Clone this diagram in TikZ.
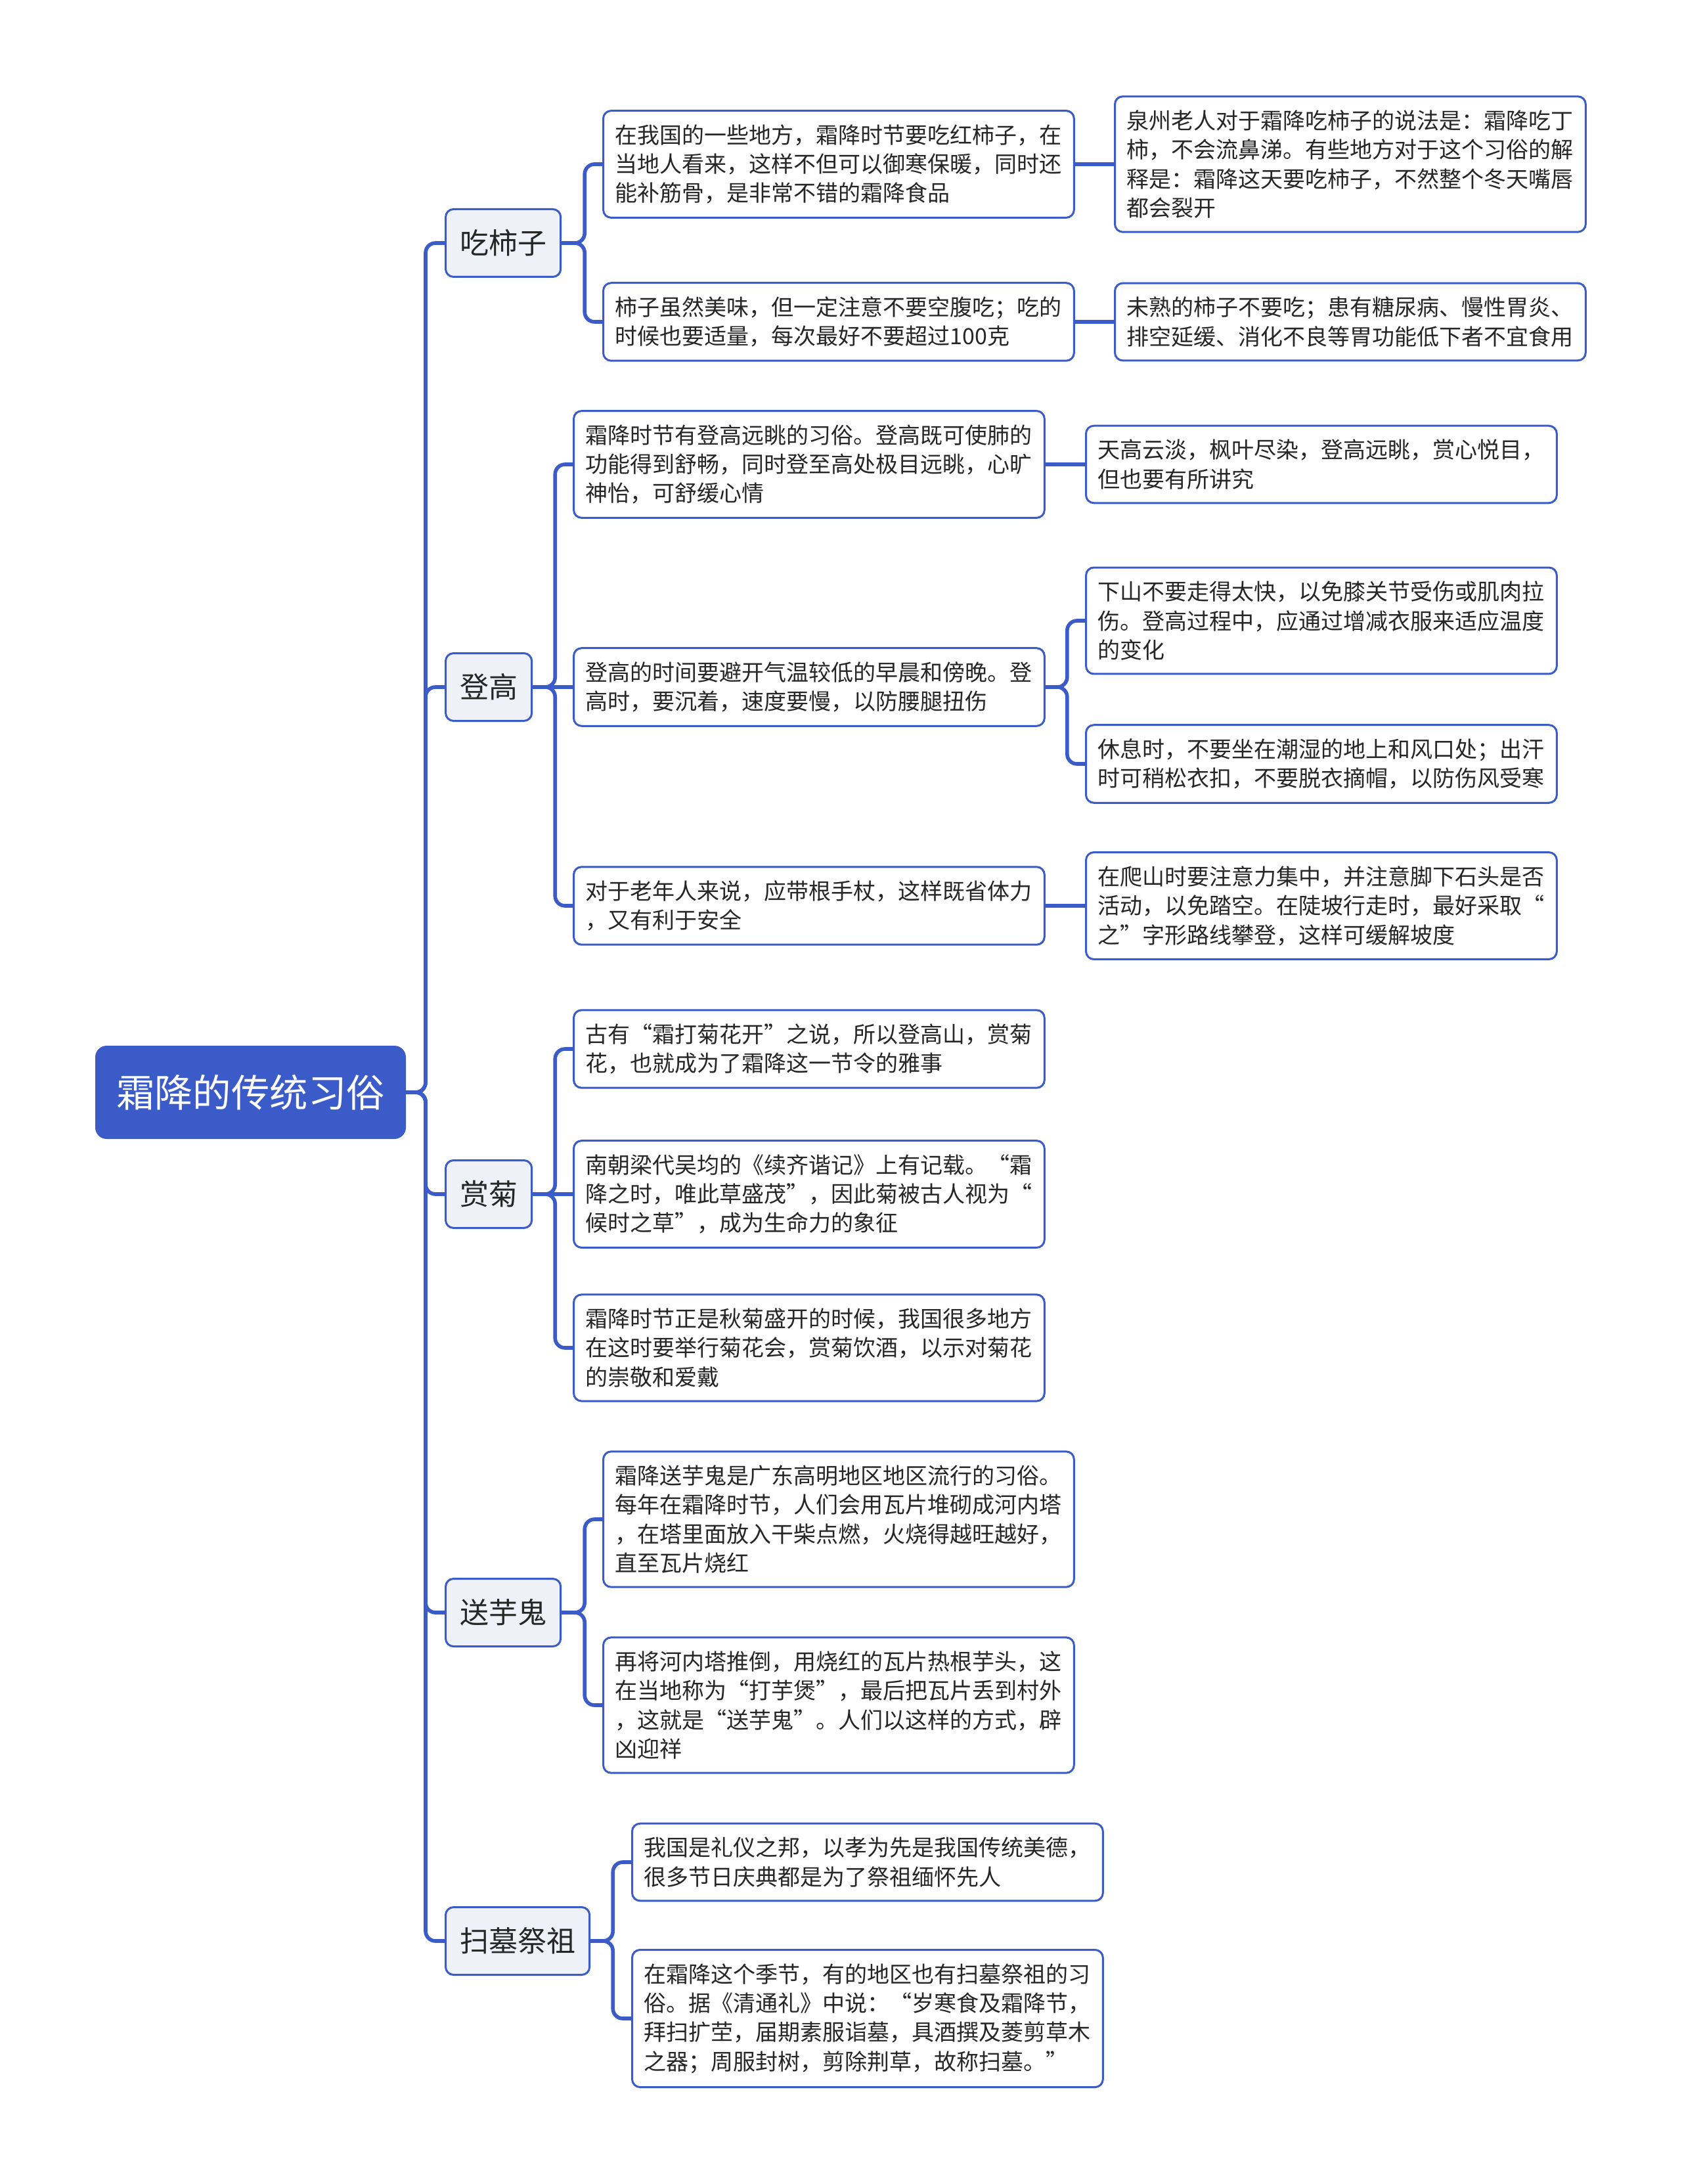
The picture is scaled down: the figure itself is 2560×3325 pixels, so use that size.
\documentclass[tikz,border=0pt]{standalone}
\usepackage{fontspec}
\setmainfont{Noto Sans CJK SC}

\definecolor{mapblue}{RGB}{58,91,200}
\definecolor{topicfill}{RGB}{238,241,247}
\definecolor{inkgray}{RGB}{38,38,38}

\begin{document}
\begin{tikzpicture}[x=0.25pt,y=-0.25pt,
    root/.style={draw=mapblue,fill=mapblue,text=white,rounded corners=4pt,line width=0.75pt,
        minimum width=117.5pt,minimum height=34.75pt,anchor=west,font=\fontsize{14.6pt}{17pt}\selectfont},
    topic/.style={draw=mapblue,fill=topicfill,text=inkgray,rounded corners=3pt,line width=0.75pt,
        inner xsep=5.4pt,minimum height=25.75pt,anchor=west,font=\fontsize{11pt}{13pt}\selectfont},
    leaf/.style={draw=mapblue,fill=white,text=inkgray,rounded corners=3pt,line width=0.75pt,
        text width=170pt,align=left,inner xsep=4.6pt,inner ysep=5.2pt,anchor=west,
        font=\fontsize{8.5pt}{11.1pt}\selectfont},
    link/.style={draw=mapblue,line width=1.4pt,rounded corners=3.75pt},
    elbow/.style={to path={(\tikztostart.east) -- ++(#1,0) |- (\tikztotarget.west)}},
    elbow/.default=34]
    \useasboundingbox (0,0) rectangle (2560,3325);

    \node[root] (0) at (145,1663) {霜降的传统习俗};

    \node[topic] (1) at (677,370) {吃柿子};
    \node[topic] (2) at (677,1046) {登高};
    \node[topic] (3) at (677,1818) {赏菊};
    \node[topic] (4) at (677,2455) {送芋鬼};
    \node[topic] (5) at (677,2955) {扫墓祭祖};

    \node[leaf] (11) at (917,250) {在我国的一些地方，霜降时节要吃红柿子，在\\当地人看来，这样不但可以御寒保暖，同时还\\能补筋骨，是非常不错的霜降食品};
    \node[leaf] (12) at (917,490) {柿子虽然美味，但一定注意不要空腹吃；吃的\\时候也要适量，每次最好不要超过100克};
    \node[leaf] (111) at (1696,250) {泉州老人对于霜降吃柿子的说法是：霜降吃丁\\柿，不会流鼻涕。有些地方对于这个习俗的解\\释是：霜降这天要吃柿子，不然整个冬天嘴唇\\都会裂开};
    \node[leaf] (121) at (1696,490) {未熟的柿子不要吃；患有糖尿病、慢性胃炎、\\排空延缓、消化不良等胃功能低下者不宜食用};

    \node[leaf] (21) at (872,707) {霜降时节有登高远眺的习俗。登高既可使肺的\\功能得到舒畅，同时登至高处极目远眺，心旷\\神怡，可舒缓心情};
    \node[leaf] (22) at (872,1046) {登高的时间要避开气温较低的早晨和傍晚。登\\高时，要沉着，速度要慢，以防腰腿扭伤};
    \node[leaf] (23) at (872,1379) {对于老年人来说，应带根手杖，这样既省体力\\，又有利于安全};
    \node[leaf] (211) at (1652,707) {天高云淡，枫叶尽染，登高远眺，赏心悦目，\\但也要有所讲究};
    \node[leaf] (221) at (1652,945) {下山不要走得太快，以免膝关节受伤或肌肉拉\\伤。登高过程中，应通过增减衣服来适应温度\\的变化};
    \node[leaf] (222) at (1652,1163) {休息时，不要坐在潮湿的地上和风口处；出汗\\时可稍松衣扣，不要脱衣摘帽，以防伤风受寒};
    \node[leaf] (231) at (1652,1379) {在爬山时要注意力集中，并注意脚下石头是否\\活动，以免踏空。在陡坡行走时，最好采取“\\之”字形路线攀登，这样可缓解坡度};

    \node[leaf] (31) at (872,1597) {古有“霜打菊花开”之说，所以登高山，赏菊\\花，也就成为了霜降这一节令的雅事};
    \node[leaf] (32) at (872,1818) {南朝梁代吴均的《续齐谐记》上有记载。“霜\\降之时，唯此草盛茂”，因此菊被古人视为“\\候时之草”，成为生命力的象征};
    \node[leaf] (33) at (872,2052) {霜降时节正是秋菊盛开的时候，我国很多地方\\在这时要举行菊花会，赏菊饮酒，以示对菊花\\的崇敬和爱戴};

    \node[leaf] (41) at (917,2313) {霜降送芋鬼是广东高明地区地区流行的习俗。\\每年在霜降时节，人们会用瓦片堆砌成河内塔\\，在塔里面放入干柴点燃，火烧得越旺越好，\\直至瓦片烧红};
    \node[leaf] (42) at (917,2596) {再将河内塔推倒，用烧红的瓦片热根芋头，这\\在当地称为“打芋煲”，最后把瓦片丢到村外\\，这就是“送芋鬼”。人们以这样的方式，辟\\凶迎祥};

    \node[leaf] (51) at (961,2835) {我国是礼仪之邦，以孝为先是我国传统美德，\\很多节日庆典都是为了祭祖缅怀先人};
    \node[leaf] (52) at (961,3073) {在霜降这个季节，有的地区也有扫墓祭祖的习\\俗。据《清通礼》中说：“岁寒食及霜降节，\\拜扫扩茔，届期素服诣墓，具酒撰及菱剪草木\\之器；周服封树，剪除荆草，故称扫墓。”};

    \path[link] (0) edge[elbow=30] (1);
    \path[link] (0) edge[elbow=30] (2);
    \path[link] (0) edge[elbow=30] (3);
    \path[link] (0) edge[elbow=30] (4);
    \path[link] (0) edge[elbow=30] (5);

    \path[link] (1) edge[elbow=35] (11);
    \path[link] (1) edge[elbow=35] (12);
    \path[link] (11) edge (111);
    \path[link] (12) edge (121);

    \path[link] (2) edge[elbow] (21);
    \path[link] (2) edge (22);
    \path[link] (2) edge[elbow] (23);
    \path[link] (21) edge (211);
    \path[link] (22) edge[elbow=33] (221);
    \path[link] (22) edge[elbow=33] (222);
    \path[link] (23) edge (231);

    \path[link] (3) edge[elbow] (31);
    \path[link] (3) edge (32);
    \path[link] (3) edge[elbow] (33);

    \path[link] (4) edge[elbow=35] (41);
    \path[link] (4) edge[elbow=35] (42);

    \path[link] (5) edge[elbow] (51);
    \path[link] (5) edge[elbow] (52);
\end{tikzpicture}
\end{document}
